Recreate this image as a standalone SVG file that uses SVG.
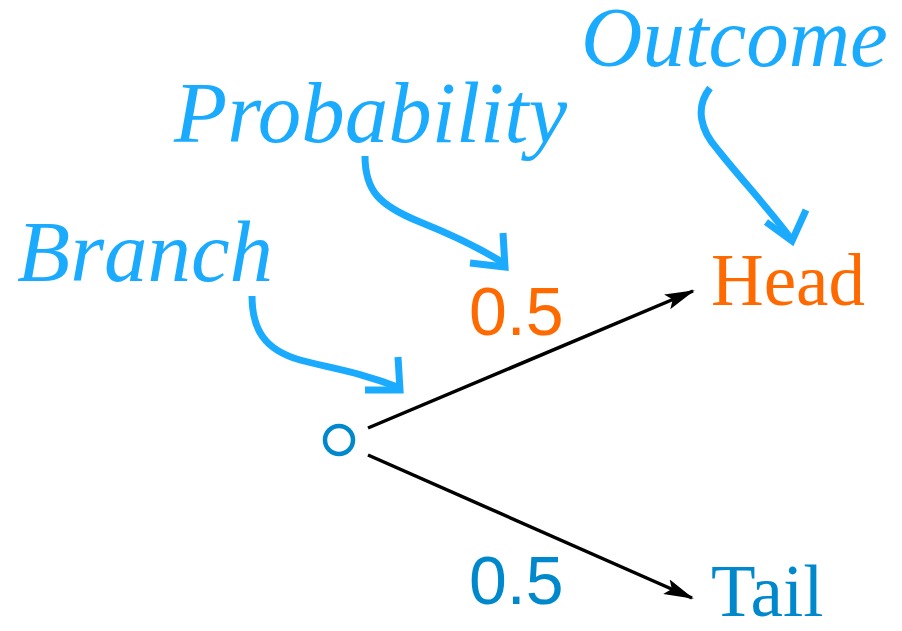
<svg xmlns="http://www.w3.org/2000/svg" width="902" height="631" viewBox="0 0 902 631">
<style>
.note{font-family:"Liberation Serif",serif;font-style:italic;font-size:87px;fill:#1AABFF}
.lab{font-family:"Liberation Serif",serif;font-size:73px}
.prob{font-family:"Liberation Sans",sans-serif;font-size:68px}
.curl{fill:none;stroke:#1AABFF;stroke-width:7;stroke-linecap:butt;stroke-linejoin:miter}
.edge{fill:none;stroke:#000;stroke-width:3.5}
</style>
<defs>
<marker id="ah" viewBox="0 0 30 16" refX="28" refY="8" markerWidth="30" markerHeight="16" markerUnits="userSpaceOnUse" orient="auto">
<path d="M0,0 L30,8 L0,16 L6,8 Z" fill="#000"/>
</marker>
</defs>
<rect width="902" height="631" fill="#fff"/>
<g id="annotations">
<g id="branch-note"><text class="note" x="17" y="281">Branch</text></g>
<g id="probability-note"><text class="note" x="174" y="142">Probability</text></g>
<g id="outcome-note"><text class="note" x="581" y="66" style="font-size:85px">Outcome</text></g>
</g>
<g id="node-root"><circle cx="339" cy="440" r="14" fill="none" stroke="#0088CC" stroke-width="4.5"/></g>
<g id="node-head"><text class="lab" x="711" y="305" fill="#FF6A00">Head</text></g>
<g id="node-tail"><text class="lab" x="711" y="616" fill="#0088CC">Tail</text></g>
<g id="label-p-head"><text class="prob" x="469" y="335" fill="#FF6A00">0.5</text></g>
<g id="label-p-tail"><text class="prob" x="469" y="604" fill="#0088CC">0.5</text></g>
<g id="connectors">
<path class="edge" d="M368,428 L693,291" marker-end="url(#ah)"/>
<path class="edge" d="M368,455 L692,598" marker-end="url(#ah)"/>
<path class="curl" d="M252,296 C252,330 265,350 300,360 C330,368 360,372 400,388"/>
<path class="curl" d="M398,357 L400,390 L365,390"/>
<path class="curl" d="M365,156 C365,190 378,205 420,222 C450,234 480,248 505,264"/>
<path class="curl" d="M503,233 L505,267 L470,263"/>
<path class="curl" d="M710,88 C695,107 700,130 718,150 C740,178 770,210 792,240"/>
<path class="curl" d="M806,210 L792,241 L766,222"/>
</g>
</svg>
